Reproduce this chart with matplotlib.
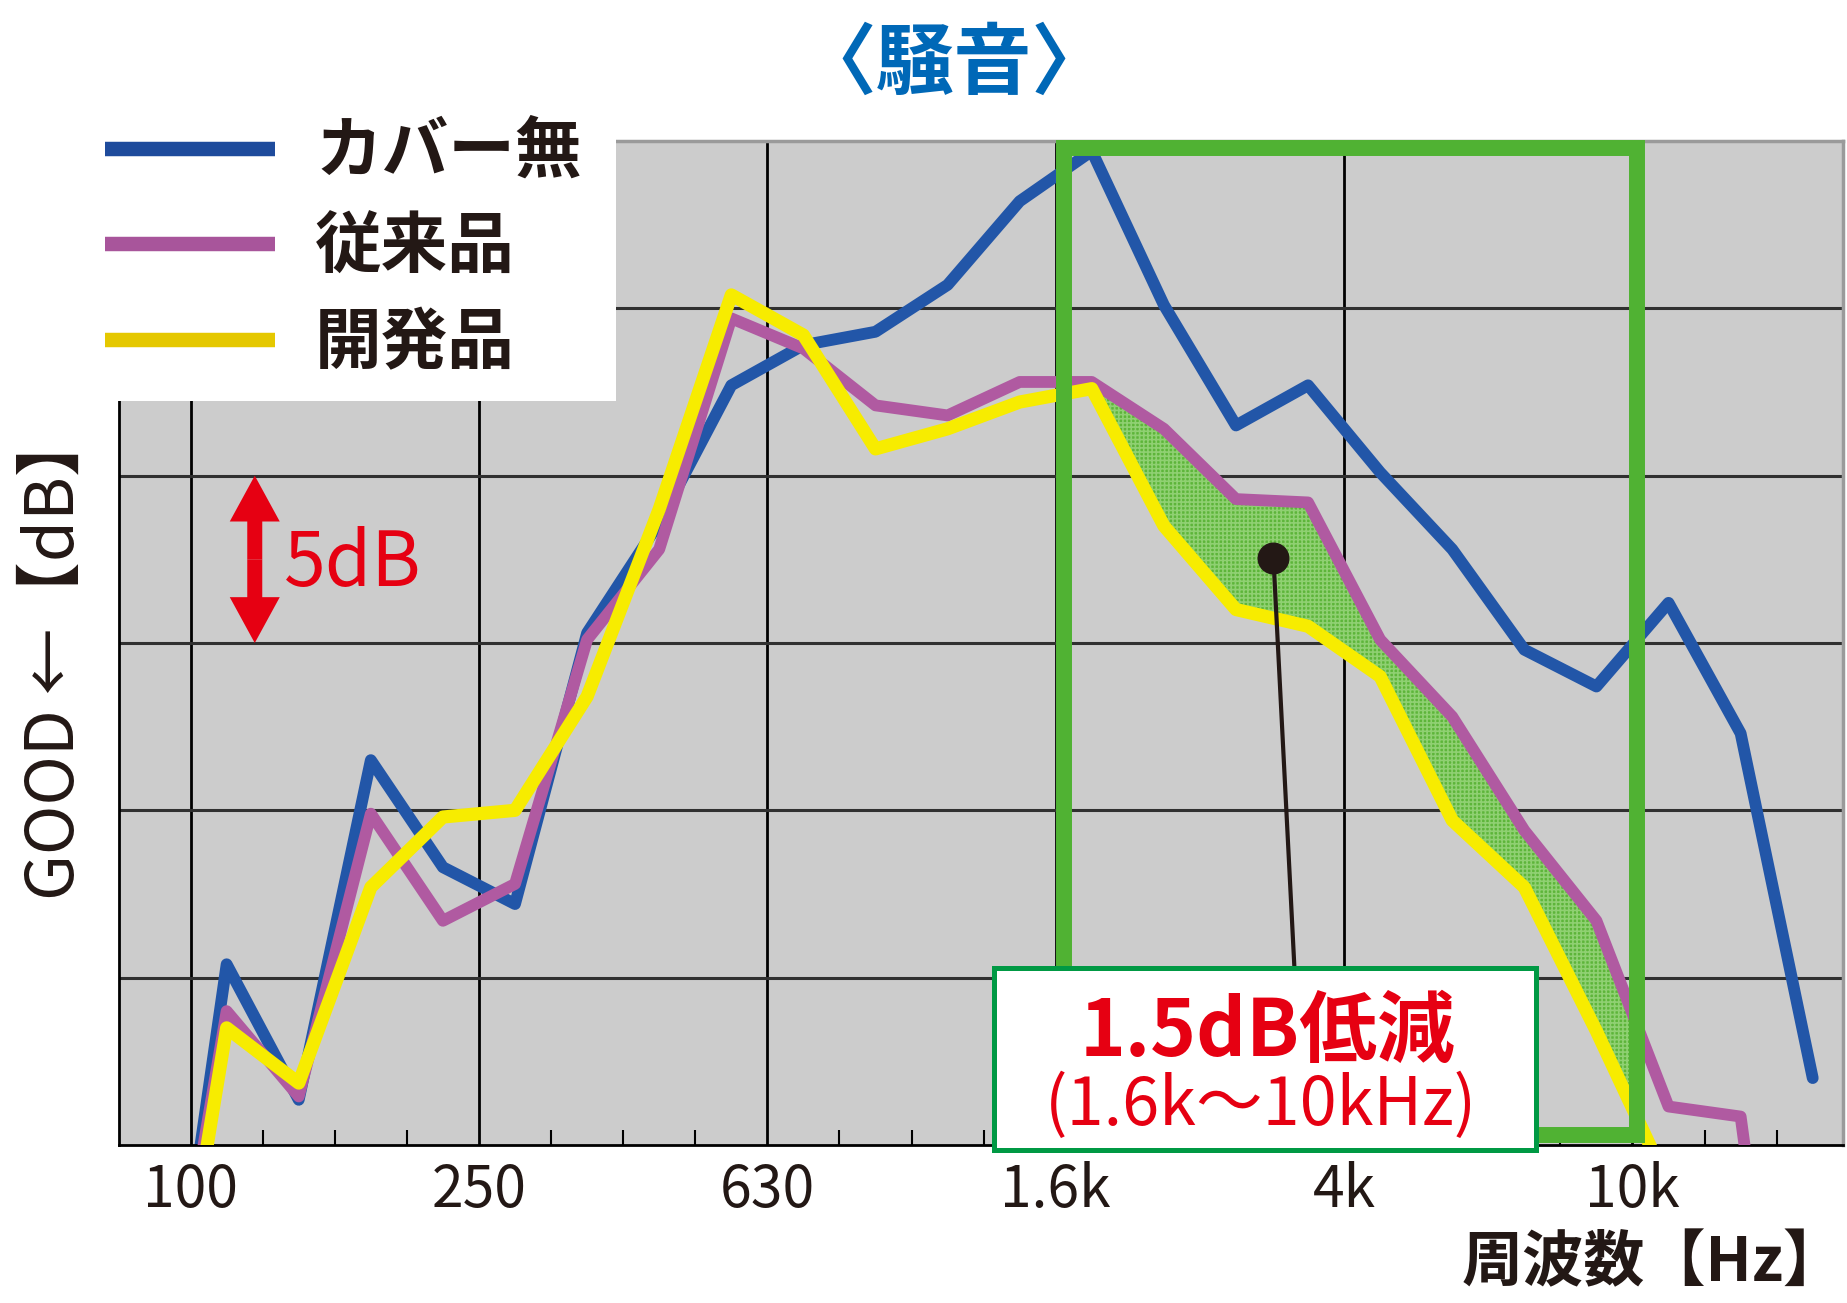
import numpy as np
import matplotlib
matplotlib.use("Agg")
import matplotlib.pyplot as plt
from matplotlib.patches import Rectangle
from matplotlib.lines import Line2D

plt.rcParams['font.family'] = ['Noto Sans CJK JP', 'DejaVu Sans']
plt.rcParams['hatch.linewidth'] = 1.2

#####################################
##          DATA                   ##
#####################################
# 1/3 octave bands, 80 Hz .. 16 kHz (index positions on the axis)
tick_pos = [1, 5, 9, 13, 17, 21]
tick_labels = ['100', '250', '630', '1.6k', '4k', '10k']
band_x = np.arange(24) + 0.5

# relative level [dB] (5 dB per grid line)
blue_db = [-9.5, 5.4, 1.35, 11.5, 8.3, 7.2, 15.3, 18.6, 22.7, 23.9, 24.3, 25.7,
           28.2, 29.7, 25.1, 21.5, 22.7, 20.1, 17.8, 14.8, 13.7, 16.2, 12.3, 2.0]
purple_db = [-8.5, 4.0, 1.45, 9.9, 6.7, 7.8, 15.1, 17.8, 24.7, 23.8, 22.1, 21.8,
             22.8, 22.8, 21.4, 19.3, 19.2, 15.1, 12.8, 9.4, 6.7, 1.15, 0.85, -15.0]
yellow_db = [-9.5, 3.5, 1.85, 7.7, 9.8, 10.0, 13.4, 19.0, 25.4, 24.2, 20.8, 21.4,
             22.2, 22.6, 18.5, 16.0, 15.5, 14.0, 9.7, 7.7, 3.4, -1.2, -8.0, -15.0]

labels = ['カバー無', '従来品', '開発品']

#####################################
##          FIGURE                 ##
#####################################
W, H = 1847, 1303
fig = plt.figure(figsize=(W / 100, H / 100), dpi=100)
ax = fig.add_axes([118.5 / W, 1 - 1145 / H, (1843 - 118.5) / W, (1145 - 141) / H])
ax.set_facecolor('#cccccc')
ax.set_xlim(0, 23.92)
ax.set_ylim(0, 30)

# grid
ax.set_axisbelow(True)
ax.set_xticks(tick_pos)
ax.set_xticklabels(tick_labels, fontsize=41, color='#231815')
ax.set_xticks([i for i in range(1, 24) if i not in tick_pos], minor=True)
ax.set_yticks([5, 10, 15, 20, 25])
ax.set_yticklabels([])
ax.tick_params(axis='x', which='major', length=0, pad=12)
ax.tick_params(axis='x', which='minor', direction='in', length=11, width=1.5, color='black')
ax.tick_params(axis='y', length=0)
ax.grid(axis='x', which='major', color='black', lw=2.0)
ax.grid(axis='y', color='#303030', lw=2.2)

for s in ['left', 'bottom']:
    ax.spines[s].set_color('black')
    ax.spines[s].set_linewidth(2.0)
for s in ['top', 'right']:
    ax.spines[s].set_color('#9a9a9a')
    ax.spines[s].set_linewidth(2.5)

# reduction area between conventional and developed product
xf = np.linspace(13.5, 21.06, 300)
ax.fill_between(xf, np.interp(xf, band_x, purple_db), np.interp(xf, band_x, yellow_db),
                facecolor='#5db53a', edgecolor='#8fd072', hatch='++++', lw=0, zorder=1.5)

# lines
ax.plot(band_x, blue_db, color='#2256a8', lw=8.5, solid_joinstyle='round', solid_capstyle='round', zorder=2)
ax.plot(band_x, purple_db, color='#b05aa1', lw=8.5, solid_joinstyle='round', solid_capstyle='round', zorder=3)
ax.plot(band_x, yellow_db, color='#f7ec00', lw=9.5, solid_joinstyle='round', solid_capstyle='round', zorder=4)

# green frame 1.6k - 10k
ax.add_patch(Rectangle((13.11, 0.3), 21.06 - 13.11, 29.8 - 0.3, fill=False,
                       edgecolor='#50b233', lw=11.5, joinstyle='miter', clip_on=False, zorder=6))

# pointer
ax.plot([16.02, 16.31], [17.53, 5.33], color='#231815', lw=3, zorder=6.5)
ax.plot([16.02], [17.53], 'o', color='#231815', ms=22, zorder=6.5)

# annotation box
ax.add_patch(Rectangle((12.14, -0.15), 19.66 - 12.14, 5.45, facecolor='white',
                       edgecolor='#009944', lw=3.6, clip_on=False, zorder=7))
ax.text(15.93, 2.66, '1.5dB低減', color='#e60012', fontsize=56, fontweight='bold',
        ha='center', va='baseline', zorder=8)
ax.text(15.85, 0.6, '(1.6k～10kHz)', color='#e60012', fontsize=48,
        ha='center', va='baseline', zorder=8)

# 5dB scale arrow
red = '#e60012'
for y_end in (20, 15):
    ax.annotate('', xy=(1.89, y_end), xytext=(1.89, 17.5),
                arrowprops=dict(arrowstyle='simple,head_length=33,head_width=36,tail_width=10.8',
                                mutation_scale=1, color=red, lw=0, shrinkA=0, shrinkB=0),
                zorder=5)
ax.text(2.3, 16.7, '5dB', color=red, fontsize=54, ha='left', va='baseline', zorder=5)

# legend on white background
ax.add_patch(Rectangle((-0.07, 0.7415), 0.07 + 0.2887, 0.27, transform=ax.transAxes,
                       facecolor='white', edgecolor='none', clip_on=False, zorder=3))
handles = [Line2D([], [], color=c, lw=10.4, solid_capstyle='butt')
           for c in ['#1e4b9c', '#a8559b', '#e5c800']]
leg = ax.legend(handles, labels, loc='upper left', bbox_to_anchor=(105 / W, 1 - 119 / H),
                bbox_transform=fig.transFigure, frameon=False, borderpad=0, borderaxespad=0,
                handlelength=2.55, handletextpad=0.6, labelspacing=0.43,
                prop=dict(family=['Noto Sans CJK JP', 'DejaVu Sans'], weight='bold', size=48))
leg.set_zorder(10)
for t in leg.get_texts():
    t.set_color('#231815')

# titles and axis labels
fig.text(954 / W, 1 - 65 / H, '〈騒音〉', color='#0068b7', fontsize=56, fontweight='bold',
         ha='center', va='center')
fig.text(55 / W, 1 - 655 / H, 'GOOD ←【dB】', color='#231815', fontsize=48, rotation=90,
         ha='center', va='center')
fig.text(1845 / W, 1 - 1264 / H, '周波数【Hz】', color='#231815', fontsize=44, fontweight='bold',
         ha='right', va='center')

fig.savefig('out.png', dpi=100)
